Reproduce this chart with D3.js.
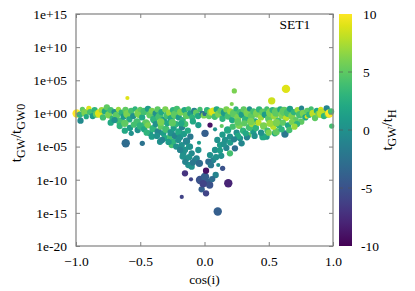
<!DOCTYPE html>
<html>
<head>
<meta charset="utf-8">
<script src="https://cdn.jsdelivr.net/npm/d3@7"></script>
<style>
  body { margin: 0; background: #fff; }
</style>
</head>
<body>
<div id="chart"></div>
<script>
// each point: [cos(i), log10(tGW/tGW0), tGW/tH (colour), pointsize]
const bandPoints = [
  [-0.995, 0.0, 10, 4], [-0.97, -0.2, 3, 3], [-0.965, -1.1, -0.5, 3], [-0.95, 0.6, 5, 2.5],
  [-0.93, 0.1, 6, 3.5], [-0.92, -0.5, 2, 2.5], [-0.90, 0.77, 9, 2.5], [-0.89, 0.2, 4, 3],
  [-0.87, -0.4, 1, 3], [-0.855, 0.5, 3, 3], [-0.84, -0.1, 5, 3.5], [-0.82, 0.0, 9, 4],
  [-0.80, 0.5, 7, 3], [-0.79, -0.6, 4, 3], [-0.775, 0.3, 2, 3], [-0.76, 0.92, 5, 3],
  [-0.745, -0.2, 6, 3.5], [-0.73, 0.5, 4, 3], [-0.715, -0.8, 3, 3], [-0.70, 0.2, 0, 3],
  [-0.685, -0.3, 5, 3.5], [-0.67, 0.6, 7, 2.5], [-0.66, -1.2, 4, 3.5], [-0.645, 0.1, 3, 3],
  [-0.63, -0.5, 1, 3], [-0.615, 0.55, 5, 3], [-0.60, -0.1, 6, 4], [-0.585, -0.9, 2, 3],
  [-0.57, 0.4, 4, 3], [-0.555, -0.4, 0, 3], [-0.54, 0.7, 3, 2.5], [-0.525, -1.3, 4, 3.5],
  [-0.51, 0.0, 6, 4.5], [-0.50, 0.6, 5, 2.5],
  [-0.485, -0.6, 2, 3], [-0.47, 0.3, 4, 3.5], [-0.455, -1.5, 5, 4], [-0.44, 0.7, 1, 3],
  [-0.425, -0.2, 5, 3.5], [-0.41, 0.4, 6, 3], [-0.395, -0.9, 3, 3.5], [-0.38, 0.0, 0, 3],
  [-0.365, 0.6, 5, 3], [-0.35, -0.5, 4, 4], [-0.335, 0.2, 2, 3], [-0.32, -1.1, 1, 3.5],
  [-0.305, 0.6, 6, 3], [-0.29, -0.3, 4, 3.5], [-0.275, 0.1, 7, 3], [-0.26, -0.8, 2, 3.5],
  [-0.245, 0.5, 3, 3], [-0.23, -0.2, 5, 4], [-0.215, 0.7, 4, 3], [-0.20, -0.6, 1, 3],
  [-0.185, 0.2, 6, 3.5], [-0.17, -1.0, 3, 3], [-0.155, 0.5, 2, 3], [-0.14, -0.3, 5, 3.5],
  [-0.125, 0.7, 4, 2.5], [-0.11, 0.0, 1, 3], [-0.095, -0.6, 3, 3], [-0.08, 0.4, -1, 3],
  [-0.065, 0.1, 5, 3], [-0.05, -0.4, 2, 3], [-0.035, 0.6, 4, 2.5], [-0.02, 0.0, -2, 2.5],
  [-0.005, -0.3, 6, 3],
  [0.004, 0.0, -3, 2.5], [0.02, 0.5, 3, 3], [0.035, -0.4, 5, 3], [0.05, 0.2, 7, 3.5],
  [0.068, 0.26, 9, 4], [0.08, -0.5, 4, 3], [0.095, 0.6, 2, 3], [0.11, -0.1, 6, 3.5],
  [0.125, 0.4, 5, 3], [0.14, -0.8, 3, 3], [0.155, 0.1, 1, 3.5], [0.17, 0.6, 6, 3],
  [0.185, -0.4, 4, 3.5], [0.20, 0.3, 7, 3], [0.215, -1.0, 2, 3], [0.23, 0.0, 5, 4],
  [0.245, 0.7, 3, 2.5], [0.26, -0.6, 6, 3.5], [0.275, 0.2, 4, 3], [0.29, -0.2, 1, 3],
  [0.305, 0.6, 5, 3], [0.32, -0.9, 3, 3.5], [0.335, 0.1, 6, 4], [0.35, 0.7, 0, 2.5],
  [0.365, -0.4, 5, 3.5], [0.38, 0.3, 4, 3], [0.395, -1.2, 2, 3], [0.41, 0.0, 6, 4],
  [0.425, 0.6, 3, 3], [0.44, -0.6, 7, 3], [0.455, 0.2, 5, 3.5], [0.47, -0.2, 1, 3],
  [0.485, 0.7, 4, 2.5],
  [0.50, -0.8, 5, 3.5], [0.515, 0.1, 6, 4.5], [0.53, 0.5, 3, 3], [0.545, -0.4, 7, 3.5],
  [0.56, 0.2, 5, 4.5], [0.575, -1.1, 4, 3], [0.59, 0.6, 2, 3], [0.605, -0.2, 6, 4],
  [0.62, 0.3, 5, 4.5], [0.635, -0.7, 8, 3], [0.65, 0.1, 4, 4], [0.665, 0.7, 1, 3],
  [0.68, -0.4, 6, 3.5], [0.695, 0.2, 3, 3], [0.71, -1.0, 5, 3], [0.725, 0.5, 7, 3],
  [0.74, -0.2, 4, 3.5], [0.755, 0.8, -1, 2.5], [0.77, 0.0, 6, 3.5], [0.785, -0.6, 2, 3],
  [0.80, 0.4, 5, 3], [0.795, -0.5, 9, 2], [0.815, -0.2, 3, 3], [0.83, 0.7, 4, 2.5],
  [0.845, 0.0, 8, 3.5], [0.86, -0.7, 5, 3], [0.875, 0.4, 2, 3], [0.89, -0.1, 6, 3.5],
  [0.905, 0.6, 9, 2.5], [0.912, 0.0, 8, 4.5], [0.93, -0.4, 3, 3], [0.951, 0.77, -1, 3],
  [0.96, -0.1, 5, 3.5], [0.971, 0.0, 10, 4], [0.985, 0.3, 4, 3], [0.99, -1.9, 4, 2.5]
]

const armPoints = [
  [-0.73, -1.4, 2, 3], [-0.70, -1.0, 0, 3], [-0.66, -1.9, 3, 3], [-0.62, -1.5, 5, 3.5],
  [-0.58, -2.2, 1, 3], [-0.55, -1.7, 4, 3], [-0.52, -2.5, 0, 3], [-0.50, -1.9, 3, 3.5],
  [-0.47, -2.4, 2, 3], [-0.44, -1.8, 6, 3], [-0.424, -3.0, 1, 3], [-0.40, -2.3, 3, 3.5],
  [-0.38, -1.6, 0, 3], [-0.36, -2.8, -1, 3.5], [-0.346, -4.27, 0, 3], [-0.34, -2.0, 5, 3],
  [-0.321, -3.0, 1, 3], [-0.31, -3.7, 2, 3], [-0.30, -2.4, 4, 3.5], [-0.29, -1.5, 2, 3],
  [-0.268, -3.51, 4, 3], [-0.26, -2.9, 0, 3.5], [-0.255, -4.77, 4, 3], [-0.243, -4.27, 3, 3],
  [-0.24, -2.2, 1, 3], [-0.23, -3.4, -1, 3], [-0.22, -1.6, 3, 3], [-0.204, -4.01, 0, 3],
  [-0.20, -2.8, 2, 3.5], [-0.19, -3.6, 0, 3], [-0.177, -4.77, 0, 3], [-0.175, -2.1, -1, 3],
  [-0.165, -6.02, 0, 3], [-0.16, -3.1, 1, 3], [-0.152, -5.52, 0, 3], [-0.15, -1.6, 4, 3],
  [-0.14, -4.2, -1, 3.5], [-0.139, -6.77, 0, 3], [-0.13, -2.6, 2, 3], [-0.126, -7.78, 0, 3],
  [-0.12, -5.0, 1, 3], [-0.113, -5.02, 0, 3], [-0.11, -3.5, -2, 3], [-0.10, -8.04, 0, 3],
  [-0.10, -6.02, -0.5, 3], [-0.074, -7.03, -1, 3], [-0.061, -6.77, -1, 3], [-0.048, -5.52, 0, 3],
  [-0.048, -1.75, 1, 3], [-0.043, -4.42, 1, 2], [-0.04, -7.53, -3, 3.5], [-0.09, -1.2, 2, 3],
  [-0.62, -2.6, 2, 3], [-0.57, -3.0, 0, 2.5], [-0.45, -2.9, 3, 3], [-0.41, -3.5, 1, 3],
  [-0.37, -3.4, 0, 3], [-0.33, -4.0, -1, 3], [-0.28, -4.3, 1, 3], [-0.22, -5.0, 0, 3],
  [-0.19, -5.5, -1, 3], [-0.17, -6.5, 0, 3], [-0.15, -7.3, -1, 3], [-0.12, -6.6, 0, 3],
  [-0.09, -7.4, -2, 3], [-0.34, -1.3, 6, 3.5], [-0.25, -1.4, 5, 3.5], [-0.18, -1.5, 2, 3],
  [0.043, -6.28, 0, 3], [0.068, -7.03, -1, 3], [0.082, -5.52, 0, 3], [0.107, -7.78, 0, 2],
  [0.121, -4.77, 1, 3], [0.16, -4.01, 0, 3], [0.198, -3.51, 0, 3], [0.237, -5.26, -3, 3],
  [0.198, -6.02, 4, 3], [0.276, -3.76, 0, 3], [0.289, -4.51, 0, 3], [0.341, -3.26, 5, 3],
  [0.38, -2.76, 1, 3], [0.483, -3.51, 1, 3], [0.548, -3.0, 2, 3], [0.626, -3.1, -2, 3.5],
  [0.558, -2.76, 5, 3.5], [0.455, -3.5, 2, 3.5], [0.286, -4.5, -1, 2.5], [0.535, -2.0, 8, 3],
  [0.753, -1.25, 5, 3], [0.03, -7.29, -3, 3], [0.14, -3.2, 1, 3], [0.18, -2.5, 2, 3.5],
  [0.22, -2.0, 4, 3], [0.25, -2.9, 0, 3], [0.27, -1.8, 6, 3.5], [0.30, -2.6, 3, 3],
  [0.31, -1.5, 5, 3], [0.33, -3.6, -1, 3], [0.35, -2.1, 4, 3.5], [0.37, -1.6, 7, 3],
  [0.40, -2.2, 3, 3], [0.42, -1.4, 8, 3], [0.44, -2.9, 0, 3], [0.46, -1.9, 6, 3.5],
  [0.49, -2.6, 4, 3], [0.51, -1.5, 7, 3.5], [0.58, -1.8, 3, 3], [0.61, -1.4, 5, 3],
  [0.65, -1.8, 2, 3], [0.68, -1.3, 6, 3], [0.72, -1.6, 3, 3], [0.10, -4.0, 0, 3],
  [0.17, -5.2, -1, 3], [0.13, -6.4, 0, 3], [0.26, -3.4, 2, 3], [0.082, -2.4, 0, 2],
  [0.134, -1.9, 5, 2], [0.043, -1.75, -9, 2.5], [0.004, -3.0, -4, 3.5],
  [0.05, -7.8, -2, 3], [0.09, -6.6, 0, 3], [0.12, -5.6, 1, 3], [0.15, -4.6, 0, 3],
  [0.20, -4.4, 1, 3], [0.23, -3.9, -1, 3], [0.32, -3.0, 2, 3], [0.39, -3.4, 0, 3],
  [0.50, -2.9, 6, 3], [0.60, -2.4, 3, 3], [0.66, -2.5, 4, 3], [0.70, -2.0, 7, 3],
  [0.26, -1.3, 5, 3.5], [0.36, -1.2, 6, 3.5], [0.56, -1.4, 6, 3.5]
]

const tipPoints = [
  [-0.152, -9.04, -7, 3], [-0.105, -9.94, -6, 2], [-0.035, -10.05, -5, 4], [0.004, -9.55, -4, 4],
  [0.012, -8.64, -9, 3], [0.030, -10.3, -4, 3], [-0.022, -11.45, -4, 3], [0.012, -12.05, -6, 3],
  [0.087, -9.29, -1, 3], [0.141, -8.28, -5, 2.5], [0.185, -10.54, -8, 4], [-0.177, -12.6, -6, 2],
  [0.103, -14.8, -4, 4], [0.04, -10.8, -5, 3.5], [-0.01, -10.6, -6, 3.5], [0.06, -9.9, -3, 3]
]

const outlierPoints = [
  [-0.60, 2.33, 9, 2], [0.232, 3.4, 6, 2.5], [0.212, 1.42, 6, 2], [0.634, 3.7, 9, 4],
  [0.523, 1.9, 8.5, 3.5], [-0.613, -4.51, -3, 4], [-0.484, -4.51, -2.5, 2.5]
]

const xTicks = [-1.0, -0.5, 0.0, 0.5, 1.0]
const yExponents = [15, 10, 5, 0, -5, -10, -15, -20]
const yTickLabels = ["1e+15", "1e+10", "1e+05", "1e+00", "1e-05", "1e-10", "1e-15", "1e-20"]
const cbTicks = [10, 5, 0, -5, -10]

const width = 415, height = 291
const margin = { top: 14, right: 82, bottom: 45, left: 76 }
const innerWidth = width - margin.left - margin.right
const innerHeight = height - margin.top - margin.bottom
const axisColor = "#808080"
const serif = "Liberation Serif"
const fs = 13.5

const svg = d3.select("#chart").append("svg")
    .attr("width", width)
    .attr("height", height)

const g = svg.append("g").attr("transform", `translate(${margin.left},${margin.top})`)

// Scales
const x = d3.scaleLinear().domain([-1, 1]).range([0, innerWidth])
const y = d3.scaleLog().domain([1e-20, 1e15]).range([innerHeight, 0])
const color = d3.scaleSequential(d3.interpolateViridis).domain([-10, 10])
const r = d3.scaleLinear().domain([0, 1]).range([0, 1.05])

// Points
const allPoints = bandPoints.concat(armPoints, tipPoints, outlierPoints)
g.append("g")
    .selectAll("circle")
    .data(allPoints)
    .join("circle")
    .attr("cx", d => x(d[0]))
    .attr("cy", d => y(Math.pow(10, d[1])))
    .attr("r", d => r(d[3]))
    .attr("fill", d => color(d[2]))

// Axes (ticks inward, mirrored)
const yVals = yExponents.map(e => Math.pow(10, e))
g.append("g")
    .call(d3.axisLeft(y).tickValues(yVals).tickSize(-4).tickPadding(9)
        .tickFormat((d, i) => yTickLabels[i]))
g.append("g").attr("class", "mirror").attr("transform", `translate(${innerWidth},0)`)
    .call(d3.axisRight(y).tickValues(yVals).tickSize(-4))
g.append("g").attr("transform", `translate(0,${innerHeight})`)
    .call(d3.axisBottom(x).tickValues(xTicks).tickSize(-4).tickPadding(10)
        .tickFormat(d3.format(".1f")))
g.append("g").attr("class", "mirror")
    .call(d3.axisTop(x).tickValues(xTicks).tickSize(-4))

g.selectAll(".mirror text").remove()
g.selectAll(".domain").remove()
g.selectAll(".tick line").attr("stroke", axisColor)
g.selectAll(".tick text")
    .attr("font-family", serif)
    .attr("font-size", fs)
    .attr("fill", "#000")

// Frame
g.append("rect")
    .attr("width", innerWidth).attr("height", innerHeight)
    .attr("fill", "none").attr("stroke", axisColor).attr("stroke-width", 1.2)

// Axis labels
svg.append("text")
    .attr("x", margin.left + innerWidth / 2)
    .attr("y", 284)
    .attr("text-anchor", "middle")
    .attr("font-family", serif)
    .attr("font-size", fs)
    .text("cos(i)")

const yLab = svg.append("text")
    .attr("transform", `translate(21,${margin.top + innerHeight / 2 + 3}) rotate(-90)`)
    .attr("text-anchor", "middle")
    .attr("font-family", serif)
    .attr("font-size", 15)
yLab.append("tspan").text("t")
yLab.append("tspan").attr("dy", 4).attr("font-size", 12).text("GW")
yLab.append("tspan").attr("dy", -4).text("/t")
yLab.append("tspan").attr("dy", 4).attr("font-size", 12).text("GW0")

// SET1 label
svg.append("text")
    .attr("x", 295).attr("y", 29)
    .attr("text-anchor", "middle")
    .attr("font-family", serif)
    .attr("font-size", fs)
    .text("SET1")

// Colour bar
const cbX = 339, cbW = 13
const cb = d3.scaleLinear().domain([-10, 10]).range([margin.top + innerHeight, margin.top])
const grad = svg.append("defs").append("linearGradient")
    .attr("id", "cbgrad").attr("x1", 0).attr("y1", 1).attr("x2", 0).attr("y2", 0)
d3.range(0, 1.0001, 0.05).forEach(t => {
    grad.append("stop").attr("offset", t).attr("stop-color", d3.interpolateViridis(t))
})
svg.append("rect")
    .attr("x", cbX).attr("y", margin.top)
    .attr("width", cbW).attr("height", innerHeight)
    .attr("fill", "url(#cbgrad)")

const inner = cbTicks.filter(d => d > -10 && d < 10)
const cbG = svg.append("g")
cbG.selectAll("line.l")
    .data(inner)
    .join("line")
    .attr("class", "l")
    .attr("x1", cbX).attr("x2", cbX + 4)
    .attr("y1", d => cb(d)).attr("y2", d => cb(d))
    .attr("stroke", "#555").attr("stroke-opacity", 0.6)
cbG.selectAll("line.r")
    .data(inner)
    .join("line")
    .attr("class", "r")
    .attr("x1", cbX + cbW - 4).attr("x2", cbX + cbW)
    .attr("y1", d => cb(d)).attr("y2", d => cb(d))
    .attr("stroke", "#555").attr("stroke-opacity", 0.6)
cbG.selectAll("text")
    .data(cbTicks)
    .join("text")
    .attr("x", d => d < 0 ? 361 : 363)
    .attr("y", d => cb(d) + 4.5)
    .attr("font-family", serif)
    .attr("font-size", fs)
    .text(d => d)

const cbLab = svg.append("text")
    .attr("transform", `translate(392,${margin.top + innerHeight / 2}) rotate(-90)`)
    .attr("text-anchor", "middle")
    .attr("font-family", serif)
    .attr("font-size", 15)
cbLab.append("tspan").text("t")
cbLab.append("tspan").attr("dy", 4).attr("font-size", 12).text("GW")
cbLab.append("tspan").attr("dy", -4).text("/t")
cbLab.append("tspan").attr("dy", 4).attr("font-size", 12).text("H")
</script>
</body>
</html>
